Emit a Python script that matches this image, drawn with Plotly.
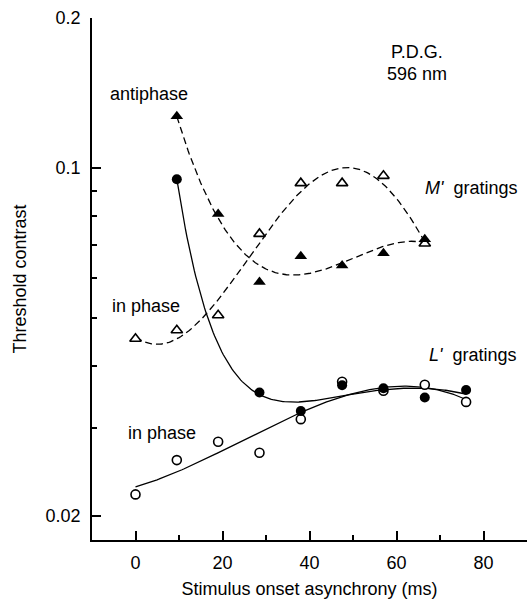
import numpy as np
import plotly.graph_objects as go

# ---- data ----
m_anti_x = [9.5, 19, 28.5, 38, 47.5, 57, 66.5]
m_anti_y = [0.127, 0.0808, 0.059, 0.0665, 0.0637, 0.0674, 0.0719]

m_in_x = [0, 9.5, 19, 28.5, 38, 47.5, 57, 66.5]
m_in_y = [0.0454, 0.0472, 0.0506, 0.0737, 0.0932, 0.0932, 0.0964, 0.0705]

l_anti_x = [9.5, 28.5, 38, 47.5, 57, 66.5, 76]
l_anti_y = [0.0949, 0.0354, 0.0325, 0.0366, 0.0361, 0.0346, 0.0358]

l_in_x = [0, 9.5, 19, 28.5, 38, 47.5, 57, 66.5, 76]
l_in_y = [0.0221, 0.0259, 0.0282, 0.0268, 0.0313, 0.0372, 0.0357, 0.0367, 0.0339]

x_ticks = [0, 20, 40, 60, 80]
x_minor = [10, 30, 50, 70]
y_ticks = [0.02, 0.1, 0.2]
y_tick_text = ["0.02", "0.1", "0.2"]
y_minor = [0.03, 0.04, 0.05, 0.06, 0.07, 0.08, 0.09]

FONT = "Liberation Sans, Arial, Helvetica, sans-serif"


def poly_basis(deg):
    return lambda x: np.vstack([x ** k for k in range(deg + 1)]).T


def decay_basis(tau, deg):
    return lambda x: np.vstack([np.exp(-x / tau)] + [x ** k for k in range(deg + 1)]).T


def fit_curve(xs, ys, basis, n=200):
    xs = np.asarray(xs, float)
    ly = np.log10(np.asarray(ys, float))
    coef, *_ = np.linalg.lstsq(basis(xs), ly, rcond=None)
    xf = np.linspace(xs.min(), xs.max(), n)
    return xf, 10 ** (basis(xf) @ coef)


fig = go.Figure()

dash = "7px,4px"
for xs, ys, basis, d in [
    (m_anti_x, m_anti_y, poly_basis(3), dash),
    (m_in_x, m_in_y, poly_basis(5), dash),
    (l_anti_x, l_anti_y, decay_basis(11.0, 2), "solid"),
    (l_in_x, l_in_y, poly_basis(3), "solid"),
]:
    xf, yf = fit_curve(xs, ys, basis)
    fig.add_trace(go.Scatter(x=xf, y=yf, mode="lines",
                             line=dict(color="black", width=1.3, dash=d),
                             hoverinfo="skip", showlegend=False))

# open markers
fig.add_trace(go.Scatter(x=l_in_x, y=l_in_y, mode="markers",
                         marker=dict(symbol="circle", size=9, color="white",
                                     line=dict(color="black", width=1.6)),
                         showlegend=False))
fig.add_trace(go.Scatter(x=m_in_x, y=m_in_y, mode="markers",
                         marker=dict(symbol="triangle-up", size=10, color="white",
                                     line=dict(color="black", width=1.6)),
                         showlegend=False))
# filled markers
fig.add_trace(go.Scatter(x=l_anti_x, y=l_anti_y, mode="markers",
                         marker=dict(symbol="circle", size=10, color="black",
                                     line=dict(color="black", width=0)),
                         showlegend=False))
fig.add_trace(go.Scatter(x=m_anti_x, y=m_anti_y, mode="markers",
                         marker=dict(symbol="triangle-up", size=11, color="black",
                                     line=dict(color="black", width=0)),
                         showlegend=False))

ann_font = dict(family=FONT, size=18, color="black")
annotations = [
    dict(x=3.0, y=-0.851, text="antiphase"),
    dict(x=64.6, y=-0.7666, text="P.D.G."),
    dict(x=64.6, y=-0.8109, text="596 nm"),
    dict(x=66.0, y=-1.0402, text="<i>M'</i>  gratings", xanchor="left"),
    dict(x=2.5, y=-1.2777, text="in phase"),
    dict(x=66.9, y=-1.3763, text="<i>L'</i>  gratings", xanchor="left"),
    dict(x=6.0, y=-1.5332, text="in phase"),
]
for a in annotations:
    a.setdefault("xanchor", "center")
    a.update(xref="x", yref="y", yanchor="middle", showarrow=False, font=ann_font)

fig.update_layout(
    width=531, height=601,
    margin=dict(l=92, r=4, t=18, b=61),
    paper_bgcolor="white", plot_bgcolor="white",
    font=dict(family=FONT, size=18, color="black"),
    annotations=annotations,
    showlegend=False,
)
fig.update_xaxes(
    range=[-10, 90], showgrid=False, zeroline=False,
    showline=True, linecolor="black", linewidth=1.5,
    tickmode="array", tickvals=x_ticks, ticks="inside", ticklen=9,
    tickwidth=1.5, tickcolor="black", ticklabelstandoff=6,
    tickfont=dict(family=FONT, size=18, color="black"),
    minor=dict(tickmode="array", tickvals=x_minor, ticks="inside",
               ticklen=5, tickwidth=1.5, tickcolor="black", showgrid=False),
    title=dict(text="Stimulus onset asynchrony (ms)",
               font=dict(family=FONT, size=18, color="black"), standoff=10),
)
fig.update_yaxes(
    type="log", range=[np.log10(0.0179), np.log10(0.2)],
    showgrid=False, zeroline=False,
    showline=True, linecolor="black", linewidth=1.5,
    tickmode="array", tickvals=y_ticks, ticktext=y_tick_text,
    ticks="inside", ticklen=9, tickwidth=1.5, tickcolor="black",
    ticklabelstandoff=6,
    tickfont=dict(family=FONT, size=18, color="black"),
    minor=dict(tickmode="array", tickvals=y_minor, ticks="inside",
               ticklen=5, tickwidth=1.5, tickcolor="black", showgrid=False),
    title=dict(text="Threshold contrast",
               font=dict(family=FONT, size=18, color="black"), standoff=14),
)

fig.write_html("out.html")
